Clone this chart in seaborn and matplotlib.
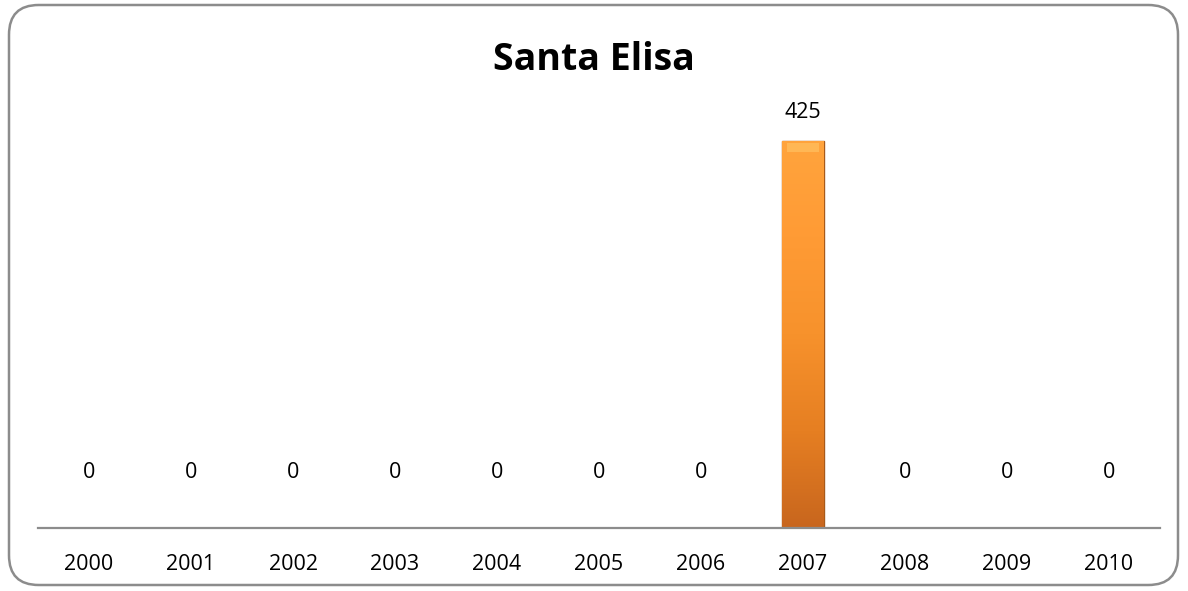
import matplotlib
matplotlib.use("Agg")
import matplotlib.pyplot as plt
import seaborn as sns
import numpy as np
import pandas as pd
from matplotlib.patches import FancyBboxPatch
from matplotlib.colors import LinearSegmentedColormap

years = ["2000", "2001", "2002", "2003", "2004", "2005", "2006", "2007", "2008", "2009", "2010"]
values = [0, 0, 0, 0, 0, 0, 0, 425, 0, 0, 0]
title = "Santa Elisa"

sns.set_theme(style="white")
plt.rcParams['font.family'] = ['Open Sans', 'DejaVu Sans']
plt.rcParams['text.color'] = '#000000'

fig = plt.figure(figsize=(11.88, 5.91), dpi=100)
W, H = 1188, 591
ax = fig.add_axes([38 / W, 1 - 528 / H, 1122 / W, 428 / H])

df = pd.DataFrame({"year": years, "value": values})
sns.barplot(data=df, x="year", y="value", ax=ax, color="#F7941D", width=0.41,
            edgecolor="#A85A1A", linewidth=1.0, saturation=1)

ax.set_ylim(0, 470)
ax.set_xlim(-0.5, len(years) - 0.5)

# gradient fill on bars
grad = np.linspace(0, 1, 256).reshape(-1, 1)
cmap = LinearSegmentedColormap.from_list("o", ["#C8661E", "#E67F22", "#F7922C", "#FF9B35", "#FFA43D"])
for patch, v in zip(ax.patches, values):
    if v <= 0:
        continue
    x0, y0 = patch.get_x(), patch.get_y()
    w, h = patch.get_width(), patch.get_height()
    im = ax.imshow(grad, extent=[x0, x0 + w, y0, y0 + h], origin="lower",
                   aspect="auto", cmap=cmap, zorder=patch.get_zorder() + 0.1)
    im.set_clip_path(patch)
    ax.fill_between([x0 + w * 0.12, x0 + w * 0.88], y0 + h - 12, y0 + h - 2,
                    color="#FFC060", alpha=0.7, zorder=patch.get_zorder() + 0.2, linewidth=0)

for i, v in enumerate(values):
    pad = 28 if v > 0 else 56
    ax.annotate(str(v), (i, v), xytext=(0, pad), textcoords="offset pixels",
                ha="center", va="center", fontsize=15.5, color="#000000")

ax.set_xlabel("")
ax.set_ylabel("")
ax.set_yticks([])
ax.tick_params(axis="x", length=0, pad=19, labelsize=15.5, colors="#000000")
for s in ["top", "left", "right"]:
    ax.spines[s].set_visible(False)
ax.spines["bottom"].set_color("#8C8C8C")
ax.spines["bottom"].set_linewidth(1.6)

fig.text(0.5, 1 - 60 / H, title, ha="center", va="center", fontsize=27,
         fontweight="bold", color="#000000")

border = FancyBboxPatch((9 / W, 6 / H), 1169 / W, 580 / H,
                        boxstyle="round,pad=0,rounding_size=0.025",
                        transform=fig.transFigure, fill=False,
                        edgecolor="#8C8C8C", linewidth=1.8, mutation_aspect=W / H)
fig.patches.append(border)

fig.savefig("out.png", dpi=100)
